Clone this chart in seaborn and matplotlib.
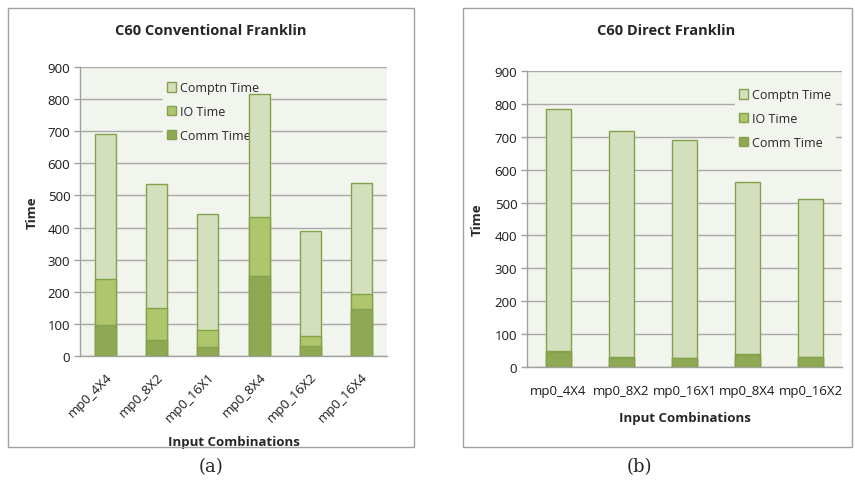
import matplotlib
matplotlib.use("Agg")
import matplotlib.pyplot as plt
import seaborn as sns
import numpy as np
import pandas as pd
from matplotlib.patches import Rectangle

# ---- data ----
conv_cats = ["mp0_4X4", "mp0_8X2", "mp0_16X1", "mp0_8X4", "mp0_16X2", "mp0_16X4"]
conv_comm = [95, 50, 28, 250, 32, 145]
conv_io = [145, 98, 52, 183, 30, 48]
conv_comptn = [452, 389, 361, 382, 328, 347]

dir_cats = ["mp0_4X4", "mp0_8X2", "mp0_16X1", "mp0_8X4", "mp0_16X2"]
dir_comm = [47, 27, 26, 37, 29]
dir_io = [2, 2, 2, 2, 2]
dir_comptn = [736, 688, 662, 525, 479]

series_labels = ["Comptn Time", "IO Time", "Comm Time"]
titles = ["C60 Conventional Franklin", "C60 Direct Franklin"]
yticks = [0, 100, 200, 300, 400, 500, 600, 700, 800, 900]

# ---- style ----
sns.set_theme(style="white")
plt.rcParams["font.family"] = ["Open Sans", "DejaVu Sans"]

C_COMPTN = "#d3dfbd"
C_IO = "#afc66d"
C_COMM = "#8ea854"
EDGE = "#84a24a"
BG = "#f2f4ee"
GRID = "#a8a8a8"
AXC = "#a0a0a0"
TXT = "#1a1a1a"

fig = plt.figure(figsize=(8.55, 4.85), dpi=100)
W, H = 855, 485

def fx(px):
    return px / W

def fy(py):
    return 1 - py / H

# panel borders
for (x0, x1) in [(8, 414), (463, 852)]:
    fig.add_artist(Rectangle((fx(x0), fy(448)), fx(x1) - fx(x0), fy(9) - fy(448),
                             transform=fig.transFigure, fill=False,
                             edgecolor="#a0a0a0", linewidth=1.0))

def draw(ax, cats, comm, io, comptn, rotate, width, legend_anchor):
    comm = np.array(comm, float)
    io = np.array(io, float)
    comptn = np.array(comptn, float)
    df = pd.DataFrame({"cat": cats, "total": comm + io + comptn,
                       "commio": comm + io, "comm": comm})
    ax.set_facecolor(BG)
    ax.set_axisbelow(True)
    ax.yaxis.grid(True, color=GRID, linewidth=1.0)
    for col, colr, lab in [("total", C_COMPTN, series_labels[0]),
                           ("commio", C_IO, series_labels[1]),
                           ("comm", C_COMM, series_labels[2])]:
        sns.barplot(data=df, x="cat", y=col, color=colr, width=width,
                    edgecolor=EDGE, linewidth=1.0, saturation=1,
                    label=lab, ax=ax, order=cats)
    for p in ax.patches:
        p.set_zorder(3)
    n = len(cats)
    ax.set_xlim(-0.5, n - 0.5)
    ax.set_ylim(0, 900)
    ax.set_yticks(yticks)
    ax.set_yticklabels([str(v) for v in yticks], fontsize=9.5, color=TXT)
    ax.set_xticks(range(n))
    if rotate:
        ax.set_xticklabels(cats, rotation=45, ha="right", rotation_mode="anchor",
                           fontsize=9.5, color=TXT)
    else:
        ax.set_xticklabels(cats, fontsize=9.5, color=TXT)
    ax.set_xticks(np.arange(-0.5, n, 1.0), minor=True)
    ax.tick_params(axis="x", which="major", length=0, pad=12 if not rotate else 10)
    ax.tick_params(axis="x", which="minor", length=4, color=AXC, width=1, direction="out")
    ax.tick_params(axis="y", length=4, color=AXC, width=1, direction="out", left=True, pad=3)
    for s in ["top", "right"]:
        ax.spines[s].set_visible(False)
    for s in ["left", "bottom"]:
        ax.spines[s].set_color(AXC)
        ax.spines[s].set_linewidth(1.0)
    ax.set_ylabel("Time", fontsize=9.5, fontweight="bold", labelpad=4)
    ax.set_xlabel("Input Combinations", fontsize=9.5, fontweight="bold")
    h, l = ax.get_legend_handles_labels()
    leg = ax.legend(h, l, loc="upper left", bbox_to_anchor=legend_anchor,
                    frameon=True, fontsize=9, handlelength=0.75, handleheight=0.75,
                    handletextpad=0.3, labelspacing=0.85, borderpad=0.3)
    leg.get_frame().set_facecolor(BG)
    leg.get_frame().set_edgecolor(BG)
    leg.get_frame().set_alpha(1)
    leg.set_zorder(2)
    return ax

ax1 = fig.add_axes([fx(80), fy(357), fx(387) - fx(80), fy(68) - fy(357)])
draw(ax1, conv_cats, conv_comm, conv_io, conv_comptn, True, 0.41, (0.25, 0.985))
ax1.xaxis.set_label_coords(0.5, -0.275)
ax1.yaxis.set_label_coords(-0.135, 0.5)

ax2 = fig.add_axes([fx(527), fy(368), fx(842) - fx(527), fy(72) - fy(368)])
draw(ax2, dir_cats, dir_comm, dir_io, dir_comptn, False, 0.40, (0.64, 0.975))
ax2.xaxis.set_label_coords(0.5, -0.15)
ax2.yaxis.set_label_coords(-0.137, 0.5)

fig.text(fx(211), fy(31), titles[0], ha="center", va="center",
         fontsize=10.5, fontweight="bold")
fig.text(fx(666), fy(31), titles[1], ha="center", va="center",
         fontsize=10.5, fontweight="bold")

fig.text(fx(211), fy(467), "(a)", ha="center", va="center",
         fontsize=13, family="DejaVu Serif")
fig.text(fx(639), fy(467), "(b)", ha="center", va="center",
         fontsize=13, family="DejaVu Serif")

fig.savefig("out.png", dpi=100, facecolor="white")
